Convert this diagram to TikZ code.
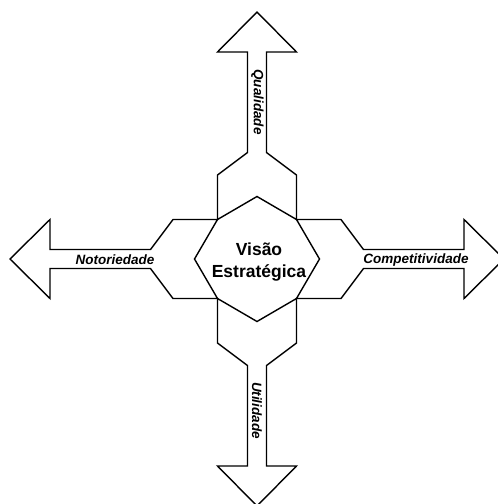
\documentclass[tikz,border=0pt]{standalone}
\usepackage{fontspec}
\setmainfont{Liberation Sans}
\begin{document}
\begin{tikzpicture}[x=1pt,y=-1pt,
  arrowshape/.style={draw=black,fill=white,line width=1.4pt,line join=miter},
  lbl/.style={font=\fontsize{13.5}{16}\selectfont\bfseries\itshape,inner sep=0pt},
  ctr/.style={font=\fontsize{17.5}{22.4}\selectfont\bfseries,align=center,inner sep=0pt}]
\useasboundingbox[fill=white] (0,0) rectangle (498,504);
\coordinate (C) at (257,259);
\foreach \ang in {0,90,180,270}{
  \begin{scope}[shift={(C)},rotate=\ang]
    \draw[arrowshape] (0,-247) -- (39.5,-207) -- (9.5,-207) -- (9.5,-106.5)
      -- (39.5,-84) -- (39.5,-39.5) -- (0,-62.5) -- (-39.5,-39.5)
      -- (-39.5,-84) -- (-9.5,-106.5) -- (-9.5,-207) -- (-39.5,-207) -- cycle;
  \end{scope}
}
\node[ctr] (vis) at (259,262) {Visão\\Estratégica};
\node[lbl,rotate=-90] (qual) at (257.5,102) {Qualidade};
\node[lbl,rotate=-90] (util) at (257,410.5) {Utilidade};
\node[lbl] (noto) at (115,260) {Notoriedade};
\node[lbl] (comp) at (416,260.5) {Competitividade};
\end{tikzpicture}
\end{document}
